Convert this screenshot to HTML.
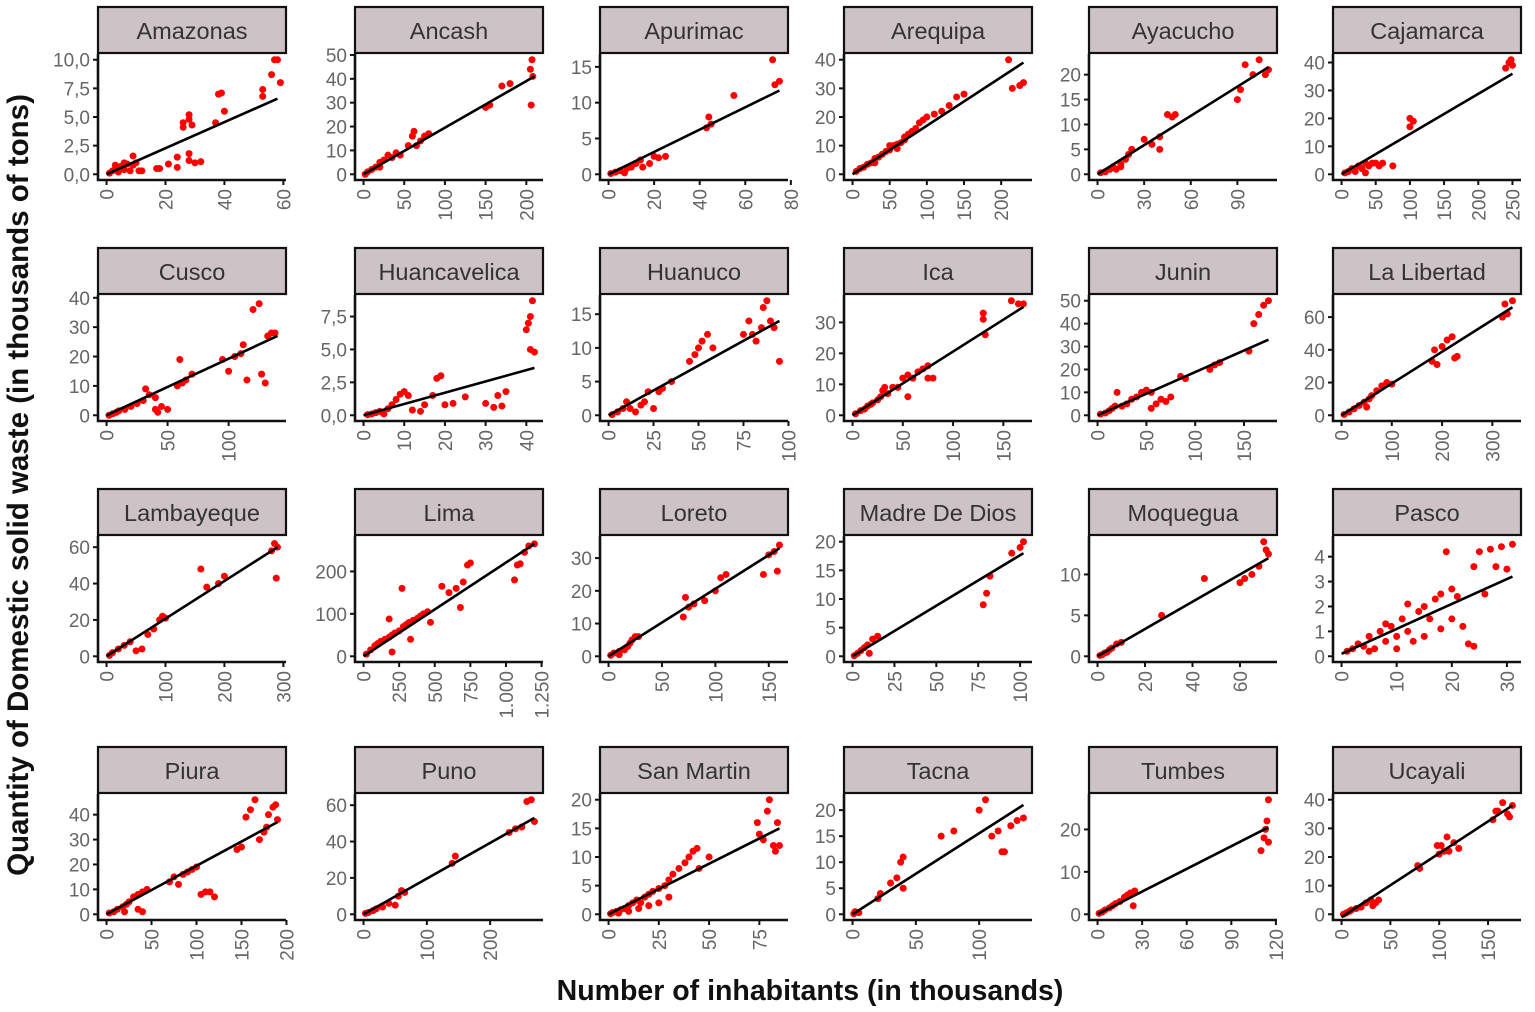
<!DOCTYPE html>
<html><head><meta charset="utf-8"><style>
html,body{margin:0;padding:0;background:#fff;}
svg{display:block;font-family:"Liberation Sans",Arial,sans-serif;}
</style></head><body>
<svg id="c" width="1535" height="1012" viewBox="0 0 1535 1012">
<text transform="translate(28,485) rotate(-90)" text-anchor="middle" font-size="29.5" font-weight="bold" fill="#111">Quantity of  Domestic solid waste (in thousands of tons)</text>
<text x="810" y="1000" text-anchor="middle" font-size="28.5" font-weight="bold" fill="#111">Number of inhabitants (in thousands)</text>
</svg>
<script>
const names=["Amazonas","Ancash","Apurimac","Arequipa","Ayacucho","Cajamarca","Cusco","Huancavelica","Huanuco","Ica","Junin","La Libertad","Lambayeque","Lima","Loreto","Madre De Dios","Moquegua","Pasco","Piura","Puno","San Martin","Tacna","Tumbes","Ucayali"];
const xMax=[58,210,75,230,110,250,140,42,95,170,175,340,290,1200,160,102,72,31,190,270,85,135,115,175];
const yMax=[10,48,16,40,23,41,39,8.7,17,37,50,70,63,270,35,20,14,4.6,46,63,20,22,27,40];
const xTicks=[[0,20,40,60],[0,50,100,150,200],[0,20,40,60,80],[0,50,100,150,200],[0,30,60,90],[0,50,100,150,200,250],[0,50,100],[0,10,20,30,40],[0,25,50,75,100],[0,50,100,150],[0,50,100,150],[0,100,200,300],[0,100,200,300],[0,250,500,750,1000,1250],[0,50,100,150],[0,25,50,75,100],[0,20,40,60],[0,10,20,30],[0,50,100,150,200],[0,100,200],[0,25,50,75],[0,50,100],[0,30,60,90,120],[0,50,100,150]];
const xTickLabels=[["0","20","40","60"],["0","50","100","150","200"],["0","20","40","60","80"],["0","50","100","150","200"],["0","30","60","90"],["0","50","100","150","200","250"],["0","50","100"],["0","10","20","30","40"],["0","25","50","75","100"],["0","50","100","150"],["0","50","100","150"],["0","100","200","300"],["0","100","200","300"],["0","250","500","750","1.000","1.250"],["0","50","100","150"],["0","25","50","75","100"],["0","20","40","60"],["0","10","20","30"],["0","50","100","150","200"],["0","100","200"],["0","25","50","75"],["0","50","100"],["0","30","60","90","120"],["0","50","100","150"]];
const yTicks=[[0,2.5,5,7.5,10],[0,10,20,30,40,50],[0,5,10,15],[0,10,20,30,40],[0,5,10,15,20],[0,10,20,30,40],[0,10,20,30,40],[0,2.5,5,7.5],[0,5,10,15],[0,10,20,30],[0,10,20,30,40,50],[0,20,40,60],[0,20,40,60],[0,100,200],[0,10,20,30],[0,5,10,15,20],[0,5,10],[0,1,2,3,4],[0,10,20,30,40],[0,20,40,60],[0,5,10,15,20],[0,5,10,15,20],[0,10,20],[0,10,20,30,40]];
const yTickLabels=[["0,0","2,5","5,0","7,5","10,0"],["0","10","20","30","40","50"],["0","5","10","15"],["0","10","20","30","40"],["0","5","10","15","20"],["0","10","20","30","40"],["0","10","20","30","40"],["0,0","2,5","5,0","7,5"],["0","5","10","15"],["0","10","20","30"],["0","10","20","30","40","50"],["0","20","40","60"],["0","20","40","60"],["0","100","200"],["0","10","20","30"],["0","5","10","15","20"],["0","5","10"],["0","1","2","3","4"],["0","10","20","30","40"],["0","20","40","60"],["0","5","10","15","20"],["0","5","10","15","20"],["0","10","20"],["0","10","20","30","40"]];
// regression line: [x0,y0,x1,y1]
const fitLines=[[0,0,58,6.6],[0,0,210,41],[0,0,75,11.7],[0,0,230,39],[0,0,110,21.5],[0,0,250,36],[0,0,140,27],[0,0,42,3.6],[0,0,95,14],[0,0,170,35],[0,0,175,33],[0,0,340,66],[0,0,290,60],[0,0,1200,265],[0,0,160,33],[0,0,102,18],[0,0,72,12],[0,0.1,31,3.2],[0,0,190,37],[0,0,270,53],[0,0,85,15],[0,0,135,21],[0,0,115,20.5],[0,-1,175,38]];
// points: flat x,y pairs
const points=[
[1,0.1,2,0.3,3,0.5,4,0.2,5,0.7,6,0.4,7,0.9,8,0.3,9,1.6,9,0.8,10,1.0,11,0.3,12,0.3,3,0.8,6,1.0,17,0.5,18,0.5,21,0.9,24,1.5,24,0.6,26,4.5,26,4.1,28,5.2,28,4.8,29,4.3,28,1.8,28,1.2,30,1,32,1.1,37,4.5,38,7,39,7.1,40,5.5,53,6.8,53,7.4,56,8.7,57,10,58,10,59,8],
[2,0,5,1,10,2,15,3,20,5,25,6,30,8,35,7,40,9,20,3,45,8,55,12,60,16,62,18,65,12,70,14,75,16,80,17,150,28,155,29,170,37,180,38,205,44,207,48,208,41,206,29],
[1,0.1,3,0.3,5,0.5,7,0.2,8,0.8,10,1,12,1.5,14,2,15,1,18,1.5,20,2.5,22,2.3,25,2.5,43,6.5,44,8,45,7,55,11,72,16,73,12.5,75,13],
[5,1,10,2,15,2.5,20,3.5,25,4,30,5.5,35,6,40,7,45,8,50,8.5,55,10,60,10.5,65,11,70,12,75,14,80,15,85,16,90,18,95,19,100,20,110,21,120,22,130,24,140,27,150,28,30,4,50,10,60,9,70,13,210,40,215,30,230,32,225,31],
[2,0.3,5,0.5,8,1,10,1.5,12,1,15,2,18,3,20,4,22,5,15,1.5,30,7,35,6,40,5,40,7.5,45,12,50,12,48,11.5,90,15,92,17,95,22,100,20,104,23,108,20,110,21],
[5,0.5,10,1,15,2,20,1,25,3,30,2,35,4,40,3,45,4,50,4,55,3,60,4,75,3,35,0.5,100,17,100,20,105,19,240,38,245,40,248,41,250,39],
[2,0,5,0.5,8,1,10,1.5,15,2,20,3,25,4,30,5,32,9,35,7,40,6,42,1,45,3,50,2,40,2,58,10,60,19,62,11,65,12,70,14,95,19,100,15,105,20,110,21,112,24,115,12,120,36,125,38,127,14,130,11,132,27,135,28,138,28],
[1,0.05,2,0.1,3,0.2,4,0.3,5,0.1,6,0.5,7,0.8,8,1.2,9,1.6,10,1.8,11,1.5,12,0.4,14,0.3,15,0.8,17,1.5,18,2.8,19,3.0,20,0.8,22,0.9,25,1.4,30,0.9,32,0.6,33,1.5,34,0.7,35,1.8,40,6.5,40.5,7,41,7.5,41.5,8.7,41,5,42,4.8],
[2,0.1,5,0.5,8,1,10,2,12,1,15,0.5,18,1.5,20,2,22,3.5,25,1,28,3.5,30,4,35,5,45,8,48,9,50,10,52,11,55,12,58,10,75,12,78,14,80,12,82,11,85,13,86,16,88,17,90,14,92,13,95,8],
[3,0.5,8,1.5,12,2,15,3,18,3.5,20,4,25,5,28,6,30,8,32,9,35,7,40,9,45,9,50,12,55,13,55,6,60,12,65,14,70,15,75,16,75,12,80,12,130,33,130,31,132,26,158,37,165,36,170,36],
[3,0.5,8,1,12,2,15,3,18,4,20,10,25,4,30,5,35,7,40,8,45,10,50,11,55,3,60,5,65,7,70,6,75,8,55,10,85,17,90,16,115,20,120,22,125,23,155,28,160,40,165,44,170,48,175,50],
[5,0.5,15,2,25,4,35,6,45,8,55,10,60,12,70,15,80,18,90,20,100,19,50,5,180,33,185,40,190,31,200,42,210,46,220,48,225,35,230,36,320,60,325,68,330,62,340,70],
[5,0.5,10,2,20,4,30,6,40,8,50,3,60,4,70,12,80,15,90,20,95,22,100,21,160,48,170,38,190,40,200,44,280,58,285,62,288,43,290,60],
[20,5,50,15,80,25,100,30,120,35,150,40,180,45,200,50,220,55,250,60,280,70,300,75,320,80,350,85,380,90,400,95,420,100,450,105,180,88,270,160,200,10,330,40,470,80,550,165,600,150,650,160,680,115,700,175,750,220,730,215,1060,180,1080,215,1100,218,1130,245,1160,260,1200,265],
[2,0.3,5,1,10,1.5,15,2,18,3,20,4,22,5,25,6,28,6,10,0.5,70,12,72,18,75,15,80,16,90,17,100,20,105,24,110,25,145,25,150,31,155,32,158,26,160,34],
[1,0.1,3,0.5,5,1,7,1.5,9,2,10,0.5,12,3,15,3.5,78,9,80,11,82,14,95,18,100,19,102,20],
[1,0.1,2,0.2,3,0.4,4,0.5,5,0.8,6,1,8,1.5,10,1.7,27,5,45,9.5,60,9,62,9.5,65,10,68,11,70,14,71,13,72,12.5],
[1,0.2,2,0.3,3,0.5,4,0.4,5,0.8,6,0.3,7,1,8,0.6,9,1.2,10,0.8,11,1.5,12,1,13,0.6,14,1.8,15,2,16,1.5,17,2.3,18,2.5,19,4.2,20,1.5,21,2.4,22,1.2,23,0.5,24,3.6,25,4.2,26,2.5,27,4.3,28,3.6,29,4.4,30,3.5,31,4.5,10,0.3,12,2.1,15,0.8,18,1.1,24,0.4,5,0.2,8,1.3,20,2.7],
[3,0.5,8,1,12,2,18,3,22,4,25,5,30,7,35,8,40,9,45,10,20,1,35,2,40,1,70,13,75,15,80,12,85,16,90,17,95,18,100,19,105,8,110,9,115,9,120,7,145,26,150,27,155,39,160,42,165,46,170,30,175,33,180,40,185,43,188,44,190,38,178,35],
[3,0.5,8,1,15,2,20,3,30,4,40,6,50,5,55,10,60,13,65,12,140,28,145,32,230,45,240,47,250,48,258,62,265,63,270,51],
[1,0.1,2,0.3,4,0.5,6,0.8,8,1,10,1.5,12,2,14,2.5,16,2,18,3,20,3.5,22,4,25,4.5,28,5,30,6,32,7,35,8,38,9,40,10,42,11,44,11.5,45,8,50,10,5,0.2,10,0.5,15,1,20,1.5,25,2,30,3,74,16,75,14,77,13,79,18,80,20,82,12,83,11,84,16,85,12],
[1,0.1,2,0.5,5,0.3,20,3,22,4,30,6,35,7,38,10,40,11,40,5,70,15,80,16,100,20,105,22,110,15,115,16,118,12,120,12,125,17,130,18,135,18.5],
[1,0.2,3,0.5,5,1,8,1.5,10,2,12,2.5,15,3,18,4,20,4.5,22,5,25,5.5,24,2,110,15,112,18,113,20,114,22,115,27,115,17],
[2,0,5,0.5,8,1,10,1.5,15,2,20,2.5,25,4,30,5,32,3,35,4,38,5,78,17,80,16,98,24,100,21,102,24,105,22,108,27,110,22,115,25,120,23,155,33,158,36,160,36,165,39,170,35,172,34,175,38]
];

const NS="http://www.w3.org/2000/svg";
const svg=document.getElementById('c');
const colLeft=[98,355,600,844,1089,1333];
const stripTop=[7,248,489,747];
const W=188,H=126,SH=46;
function mk(tag,attrs,parent){const e=document.createElementNS(NS,tag);for(const k in attrs)e.setAttribute(k,attrs[k]);(parent||svg).appendChild(e);return e;}
function slug(s){return s.toLowerCase().replace(/\s+/g,'-');}

names.forEach((nm,i)=>{
  const L=colLeft[i%6], ST=stripTop[Math.floor(i/6)], T=ST+SH+1, B=T+H;
  const xr=xMax[i], yr=yMax[i];
  const xs=v=>L+(v+0.05*xr)/(1.1*xr)*W;
  const ys=v=>B-(v+0.05*yr)/(1.1*yr)*H;
  const g=mk('g',{});
  
  
  const strip=mk('rect',{x:L,y:ST,width:W,height:SH,fill:'#cdc2c6',stroke:'#111','stroke-width':2.2},g);
  
  
  const st=mk('text',{x:L+W/2,y:ST+32,'text-anchor':'middle','font-size':23.5,fill:'#333'},g);
  st.textContent=nm;
  
  
  const p=points[i];
  for(let k=0;k<p.length;k+=2){
    const c=mk('circle',{cx:xs(p[k]),cy:ys(p[k+1]),r:3.5,fill:'#ff0000'},g);
    
    
  }
  const f=fitLines[i];
  const ln=mk('line',{x1:xs(f[0]),y1:ys(f[1]),x2:xs(f[2]),y2:ys(f[3]),stroke:'#000','stroke-width':2.6},g);
  
  
  const ax=mk('path',{d:`M${L} ${T} V${B} H${L+W}`,fill:'none',stroke:'#111','stroke-width':2.6},g);
  
  
  yTicks[i].forEach((v,j)=>{
    const y=ys(v);
    mk('line',{x1:L-5,x2:L,y1:y,y2:y,stroke:'#111','stroke-width':2},g);
    const t=mk('text',{x:L-8,y:y+7,'text-anchor':'end','font-size':19,fill:'#666'},g);
    t.textContent=yTickLabels[i][j];
    
    
  });
  xTicks[i].forEach((v,j)=>{
    const x=xs(v);
    mk('line',{x1:x,x2:x,y1:B,y2:B+5,stroke:'#111','stroke-width':2},g);
    const t=mk('text',{transform:`translate(${x+7},${B+9}) rotate(-90)`,'text-anchor':'end','font-size':19,fill:'#666'},g);
    t.textContent=xTickLabels[i][j];
    
    
  });
});
</script>
</body></html>
